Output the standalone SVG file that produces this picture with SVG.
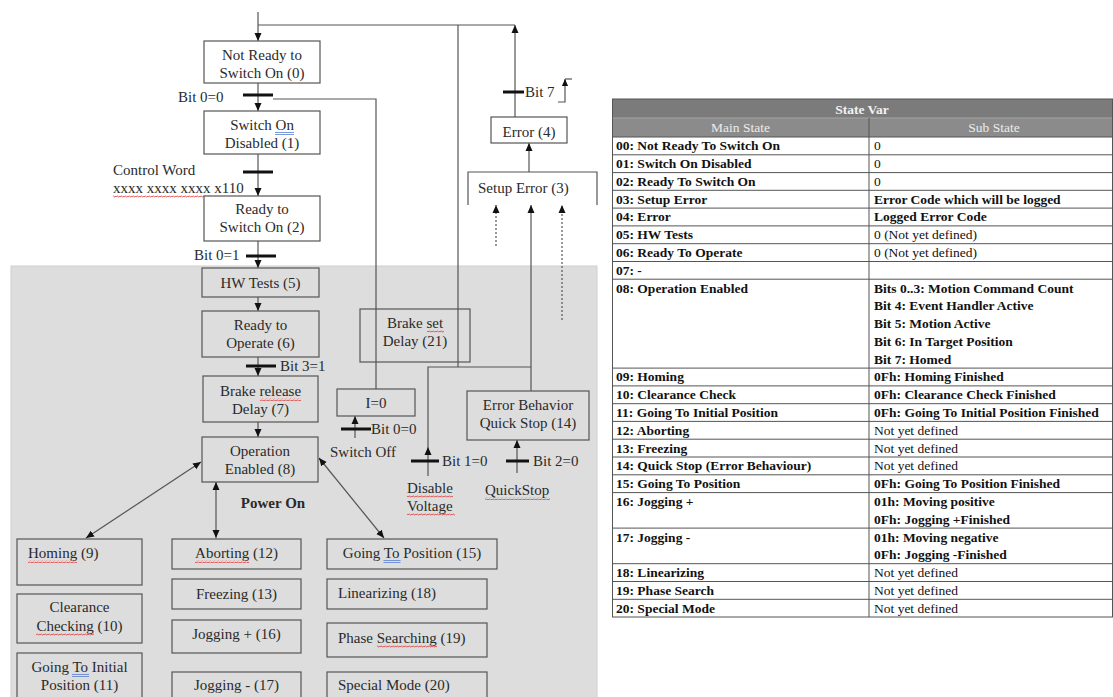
<svg xmlns="http://www.w3.org/2000/svg" width="1113" height="697" viewBox="0 0 1113 697">
<style>
.t{font-family:"Liberation Serif","Times New Roman",serif;font-size:15px;fill:#2a2a2a}
.c{text-anchor:middle}
.b{font-weight:bold}
.box{fill:#fff;stroke:#555;stroke-width:1.2}
.gbox{fill:none;stroke:#555;stroke-width:1.2}
.ln{fill:none;stroke:#555;stroke-width:1.2}
.dot{fill:none;stroke:#555;stroke-width:1.2;stroke-dasharray:2,2}
.bar{stroke:#111;stroke-width:3}
.tt{font-family:"Liberation Serif","Times New Roman",serif;font-size:13.5px;fill:#111}
.grid{stroke:#555;stroke-width:1;fill:none}
.blue{stroke:#5b7fd6;stroke-width:0.8}
</style>
<defs>
<marker id="a" viewBox="0 0 8 8" refX="8" refY="4" markerWidth="8" markerHeight="8" markerUnits="userSpaceOnUse" orient="auto-start-reverse"><path d="M0,0.5 L8,4 L0,7.5z" fill="#111"/></marker>
<marker id="s" viewBox="0 0 8 8" refX="8" refY="4" markerWidth="7" markerHeight="7" markerUnits="userSpaceOnUse" orient="auto"><path d="M0,0.5 L8,4 L0,7.5z" fill="#111"/></marker>
<pattern id="w" width="4" height="3" patternUnits="userSpaceOnUse"><path d="M0,2.2 L1,0.8 L3,2.2 L4,0.8" stroke="#e04545" stroke-width="0.8" fill="none"/></pattern>
</defs>
<rect width="1113" height="697" fill="#fff"/>
<rect id="power-on-area" x="11" y="266" width="586" height="432" fill="#dddddd" stroke="#d0d0d0"/>
<text class="t b c" x="273" y="508">Power On</text>

<g id="connectors">
<path class="ln" d="M258,12 V41" marker-end="url(#a)"/>
<path class="ln" d="M258,25 H515"/>
<path class="ln" d="M458,25 V367"/>
<path class="ln" d="M258,83 V111" marker-end="url(#a)"/>
<path class="ln" d="M273,99 H376 V389"/>
<path class="ln" d="M258,154 V196" marker-end="url(#a)"/>
<path class="ln" d="M258,241 V268" marker-end="url(#a)"/>
<path class="ln" d="M258,297 V311" marker-end="url(#a)"/>
<path class="ln" d="M258,357 V376" marker-end="url(#a)"/>
<path class="ln" d="M258,422 V437" marker-end="url(#a)"/>
<path class="ln" d="M201,462 L86,538" marker-start="url(#a)" marker-end="url(#a)"/>
<path class="ln" d="M216,482 V538" marker-start="url(#a)" marker-end="url(#a)"/>
<path class="ln" d="M319,458 L384,538" marker-start="url(#a)" marker-end="url(#a)"/>
<path class="ln" d="M355,438 V416" marker-end="url(#a)"/>
<path class="ln" d="M428,476 V447" marker-end="url(#a)"/>
<path class="ln" d="M428,447 V367 H531"/>
<path class="ln" d="M531,391 V205" marker-end="url(#a)"/>
<path class="ln" d="M517,473 V440" marker-end="url(#a)"/>
<path class="dot" d="M496,246 V205" marker-end="url(#a)"/>
<path class="dot" d="M562,320 V205" marker-end="url(#a)"/>
<path class="ln" d="M529,172 V143" marker-end="url(#a)"/>
<path class="ln" d="M515,117 V25" marker-end="url(#a)"/>
<path class="ln" d="M558,102 H565 V80"/>
<path class="ln" d="M565,86 V79" marker-end="url(#s)"/>
<path class="ln" d="M565,79 H572"/>
<line class="bar" x1="243" y1="95" x2="273" y2="95"/>
<line class="bar" x1="243" y1="172" x2="273" y2="172"/>
<line class="bar" x1="246" y1="256" x2="276" y2="256"/>
<line class="bar" x1="246" y1="366" x2="276" y2="366"/>
<line class="bar" x1="341" y1="429" x2="371" y2="429"/>
<line class="bar" x1="411" y1="461" x2="439" y2="461"/>
<line class="bar" x1="506" y1="461" x2="529" y2="461"/>
<line class="bar" x1="503" y1="92" x2="524" y2="92"/>
<text class="t" x="178" y="102">Bit 0=0</text>
<text class="t" x="113" y="175">Control Word</text>
<text class="t" x="113" y="193">xxxx xxxx xxxx x110</text>
<rect x="113" y="195" width="98" height="3" fill="url(#w)"/>
<text class="t" x="194" y="260">Bit 0=1</text>
<text class="t" x="280" y="371">Bit 3=1</text>
<text class="t" x="371" y="434">Bit 0=0</text>
<text class="t" x="330" y="457">Switch Off</text>
<text class="t" x="442" y="466">Bit 1=0</text>
<text class="t" x="407" y="493">Disable</text>
<rect x="407" y="495" width="46" height="3" fill="url(#w)"/>
<text class="t" x="407" y="511">Voltage</text>
<rect x="407" y="513" width="48" height="3" fill="url(#w)"/>
<text class="t" x="533" y="466">Bit 2=0</text>
<text class="t" x="485" y="495">QuickStop</text>
<rect x="485" y="497" width="65" height="3" fill="url(#w)"/>
<text class="t" x="525" y="97">Bit 7</text>
</g>

<g id="n0"><rect class="box" x="204" y="41" width="116" height="42"/><text class="t c" x="262" y="60">Not Ready to</text><text class="t c" x="262" y="78">Switch On (0)</text></g>
<g id="n1"><rect class="box" x="204" y="111" width="116" height="43"/><text class="t c" x="262" y="130">Switch On</text><text class="t c" x="262" y="148">Disabled (1)</text><line class="blue" x1="275" y1="132.5" x2="294" y2="132.5"/><line class="blue" x1="275" y1="134.5" x2="294" y2="134.5"/></g>
<g id="n2"><rect class="box" x="204" y="196" width="116" height="45"/><text class="t c" x="262" y="214">Ready to</text><text class="t c" x="262" y="232">Switch On (2)</text></g>
<g id="n3"><path class="box" d="M468,205 V172 H597 V205"/><text class="t" x="478" y="193">Setup Error (3)</text></g>
<g id="n4"><rect class="box" x="491" y="117" width="76" height="26"/><text class="t c" x="529" y="137">Error (4)</text></g>
<g id="n5"><rect class="gbox" x="202" y="268" width="117" height="29"/><text class="t c" x="260.5" y="288">HW Tests (5)</text></g>
<g id="n6"><rect class="gbox" x="202" y="311" width="117" height="46"/><text class="t c" x="260.5" y="330">Ready to</text><text class="t c" x="260.5" y="348">Operate (6)</text></g>
<g id="n7"><rect class="gbox" x="203" y="376" width="115" height="46"/><text class="t c" x="260.5" y="396">Brake release</text><text class="t c" x="260.5" y="414">Delay (7)</text><rect x="260" y="398" width="41" height="3" fill="url(#w)"/></g>
<g id="n8"><rect class="gbox" x="202" y="437" width="116" height="45"/><text class="t c" x="260" y="456">Operation</text><text class="t c" x="260" y="474">Enabled (8)</text></g>
<g id="n21"><rect class="gbox" x="360" y="309" width="110" height="53"/><text class="t c" x="415" y="328">Brake set</text><text class="t c" x="415" y="346">Delay (21)</text><rect x="427" y="330" width="17" height="3" fill="url(#w)"/></g>
<g id="ni0"><rect class="gbox" x="337" y="389" width="78" height="27"/><text class="t c" x="376" y="408">I=0</text></g>
<g id="n14"><rect class="gbox" x="467" y="391" width="122" height="49"/><text class="t c" x="528" y="410">Error Behavior</text><text class="t c" x="528" y="428">Quick Stop (14)</text></g>
<g id="n9"><rect class="gbox" x="17" y="539" width="125" height="46"/><text class="t" x="28" y="558">Homing (9)</text><rect x="28" y="560" width="49" height="3" fill="url(#w)"/></g>
<g id="n10"><rect class="gbox" x="17" y="594" width="125" height="49"/><text class="t c" x="79.5" y="612">Clearance</text><text class="t c" x="79.5" y="631">Checking (10)</text><rect x="36" y="633" width="58" height="3" fill="url(#w)"/></g>
<g id="n11"><rect class="gbox" x="17" y="653" width="125" height="60"/><text class="t c" x="79.5" y="672">Going To Initial</text><text class="t c" x="79.5" y="690">Position (11)</text><line class="blue" x1="72" y1="674.5" x2="89" y2="674.5"/><line class="blue" x1="72" y1="676.5" x2="89" y2="676.5"/></g>
<g id="n12"><rect class="gbox" x="172" y="539" width="129" height="30"/><text class="t c" x="236.5" y="558">Aborting (12)</text><rect x="195" y="560" width="54" height="3" fill="url(#w)"/></g>
<g id="n13"><rect class="gbox" x="172" y="579" width="129" height="30"/><text class="t c" x="236.5" y="599">Freezing (13)</text></g>
<g id="n16"><rect class="gbox" x="172" y="620" width="129" height="33"/><text class="t c" x="236.5" y="639">Jogging + (16)</text></g>
<g id="n17"><rect class="gbox" x="172" y="672" width="129" height="40"/><text class="t c" x="236.5" y="690">Jogging - (17)</text></g>
<g id="n15"><rect class="gbox" x="327" y="539" width="170" height="30"/><text class="t c" x="412" y="558">Going To Position (15)</text><line class="blue" x1="383.5" y1="560.5" x2="400.5" y2="560.5"/><line class="blue" x1="383.5" y1="562.5" x2="400.5" y2="562.5"/></g>
<g id="n18"><rect class="gbox" x="327" y="579" width="160" height="30"/><text class="t" x="338" y="598">Linearizing (18)</text></g>
<g id="n19"><rect class="gbox" x="327" y="623" width="160" height="34"/><text class="t" x="338" y="643">Phase Searching (19)</text><rect x="377" y="645" width="60" height="3" fill="url(#w)"/></g>
<g id="n20"><rect class="gbox" x="327" y="672" width="160" height="40"/><text class="t" x="338" y="690">Special Mode (20)</text></g>

<g id="state-table">
<rect x="612.5" y="99" width="500" height="19" fill="#7b7b7b"/>
<rect x="612.5" y="118" width="500" height="19" fill="#8b8b8b"/>
<line x1="612.5" y1="118" x2="1112.5" y2="118" stroke="#a5a5a5" stroke-width="1"/>
<text class="tt b c" x="862" y="113.5" fill="#f2f2f2" style="fill:#f2f2f2">State Var</text>
<text class="tt c" x="740.5" y="132" style="fill:#ececec">Main State</text>
<text class="tt c" x="994" y="132" style="fill:#ececec">Sub State</text>
<line x1="869" y1="118" x2="869" y2="617" class="grid"/>
<rect x="612.5" y="99" width="500" height="518" class="grid"/>
<path class="grid" d="M612.5,137 H1112.5 M612.5,154.8 H1112.5 M612.5,172.6 H1112.5 M612.5,190.3 H1112.5 M612.5,208.1 H1112.5 M612.5,225.9 H1112.5 M612.5,243.7 H1112.5 M612.5,261.5 H1112.5 M612.5,279.2 H1112.5 M612.5,368.1 H1112.5 M612.5,385.9 H1112.5 M612.5,403.7 H1112.5 M612.5,421.4 H1112.5 M612.5,439.2 H1112.5 M612.5,457 H1112.5 M612.5,474.8 H1112.5 M612.5,492.6 H1112.5 M612.5,528.1 H1112.5 M612.5,563.7 H1112.5 M612.5,581.5 H1112.5 M612.5,599.3 H1112.5"/>
<g class="tt b">
<text x="616" y="150.3">00: Not Ready To Switch On</text>
<text x="616" y="168.1">01: Switch On Disabled</text>
<text x="616" y="185.9">02: Ready To Switch On</text>
<text x="616" y="203.6">03: Setup Error</text>
<text x="616" y="221.4">04: Error</text>
<text x="616" y="239.2">05: HW Tests</text>
<text x="616" y="257">06: Ready To Operate</text>
<text x="616" y="274.8">07: -</text>
<text x="616" y="292.5">08: Operation Enabled</text>
<text x="616" y="381.4">09: Homing</text>
<text x="616" y="399.2">10: Clearance Check</text>
<text x="616" y="417">11: Going To Initial Position</text>
<text x="616" y="434.8">12: Aborting</text>
<text x="616" y="452.6">13: Freezing</text>
<text x="616" y="470.3">14: Quick Stop (Error Behaviour)</text>
<text x="616" y="488.1">15: Going To Position</text>
<text x="616" y="505.9">16: Jogging +</text>
<text x="616" y="541.5">17: Jogging -</text>
<text x="616" y="577">18: Linearizing</text>
<text x="616" y="594.8">19: Phase Search</text>
<text x="616" y="612.6">20: Special Mode</text>
<text x="874" y="203.6">Error Code which will be logged</text>
<text x="874" y="221.4">Logged Error Code</text>
<text x="874" y="292.5">Bits 0..3: Motion Command Count</text>
<text x="874" y="310.3">Bit 4: Event Handler Active</text>
<text x="874" y="328.1">Bit 5: Motion Active</text>
<text x="874" y="345.9">Bit 6: In Target Position</text>
<text x="874" y="363.7">Bit 7: Homed</text>
<text x="874" y="381.4">0Fh: Homing Finished</text>
<text x="874" y="399.2">0Fh: Clearance Check Finished</text>
<text x="874" y="417">0Fh: Going To Initial Position Finished</text>
<text x="874" y="488.1">0Fh: Going To Position Finished</text>
<text x="874" y="505.9">01h: Moving positive</text>
<text x="874" y="523.7">0Fh: Jogging +Finished</text>
<text x="874" y="541.5">01h: Moving negative</text>
<text x="874" y="559.2">0Fh: Jogging -Finished</text>
</g>
<g class="tt">
<text x="874" y="150.3">0</text>
<text x="874" y="168.1">0</text>
<text x="874" y="185.9">0</text>
<text x="874" y="239.2">0 (Not yet defined)</text>
<text x="874" y="257">0 (Not yet defined)</text>
<text x="874" y="434.8">Not yet defined</text>
<text x="874" y="452.6">Not yet defined</text>
<text x="874" y="470.3">Not yet defined</text>
<text x="874" y="577">Not yet defined</text>
<text x="874" y="594.8">Not yet defined</text>
<text x="874" y="612.6">Not yet defined</text>
</g>
</g>
</svg>
